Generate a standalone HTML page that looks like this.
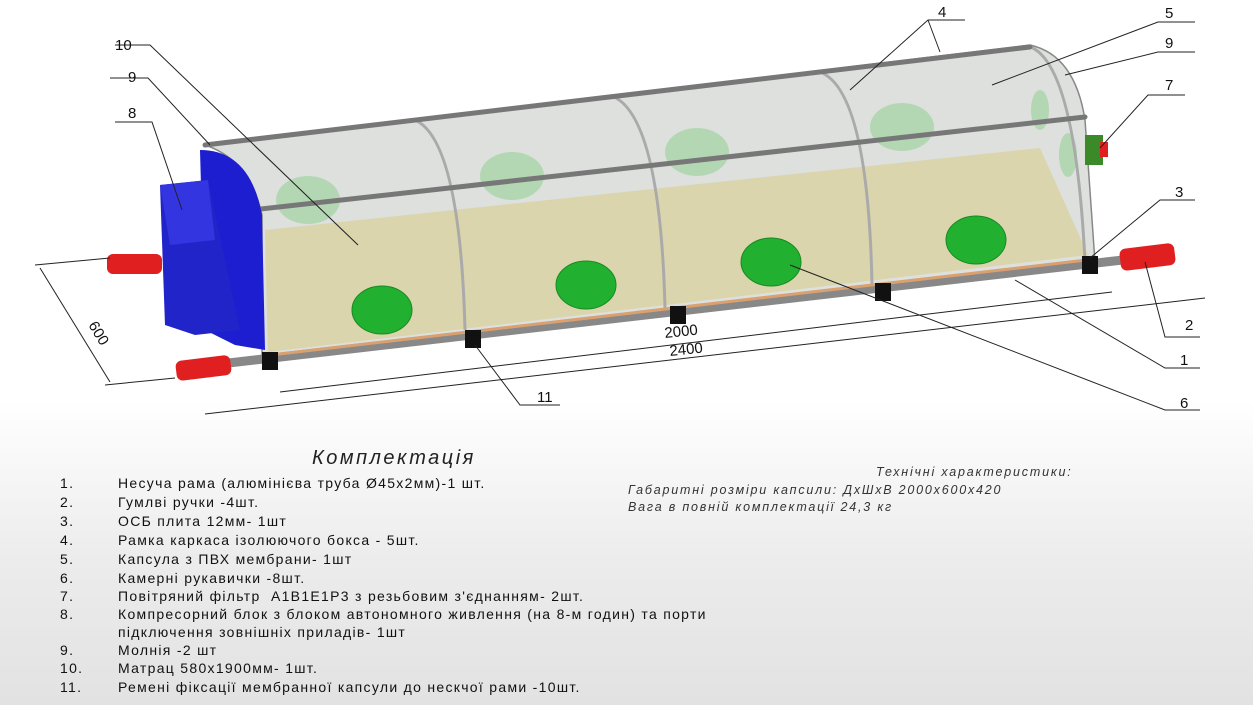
<!DOCTYPE html>
<html><head><meta charset="utf-8"><style>
html,body{margin:0;padding:0}
body{width:1253px;height:705px;overflow:hidden;background:linear-gradient(#fff 0,#fff 400px,#ececec 560px,#e2e2e2 705px);font-family:"Liberation Sans","DejaVu Sans",sans-serif;position:relative}
.l{position:absolute;font-size:14px;letter-spacing:1.3px;color:#111;white-space:nowrap}
.n{left:60px}.t{left:118px}
.it{position:absolute;font-style:italic;font-size:12.5px;color:#333;white-space:nowrap;letter-spacing:1.8px}
</style></head><body>
<svg width="1253" height="440" style="position:absolute;left:0;top:0" font-family="Liberation Sans, sans-serif">
<path d="M205,145 L1030,45 Q1075,55 1085,120 L1095,262 L262,360 L262,215 Q250,160 205,145 Z" fill="#dde0dd" stroke="#888" stroke-width="1.5"/>
<polygon points="265,230 1040,148 1088,255 268,352" fill="#d9d4a6" opacity="0.9"/>
<g fill="#a9d4a9" opacity="0.8">
<ellipse cx="308" cy="200" rx="32" ry="24"/><ellipse cx="512" cy="176" rx="32" ry="24"/><ellipse cx="697" cy="152" rx="32" ry="24"/><ellipse cx="902" cy="127" rx="32" ry="24"/>
<ellipse cx="1040" cy="110" rx="9" ry="20"/><ellipse cx="1068" cy="155" rx="9" ry="22"/>
</g>
<g fill="none" stroke="#aaa" stroke-width="3">
<path d="M415,120 Q460,140 465,330"/><path d="M612,96 Q660,115 665,308"/><path d="M820,72 Q868,90 872,285"/><path d="M1028,46 Q1075,60 1085,262"/>
</g>
<g fill="#22b030" stroke="#178a22">
<ellipse cx="382" cy="310" rx="30" ry="24"/><ellipse cx="586" cy="285" rx="30" ry="24"/><ellipse cx="771" cy="262" rx="30" ry="24"/><ellipse cx="976" cy="240" rx="30" ry="24"/>
</g>
<g stroke="#777" stroke-width="5" stroke-linecap="round">
<line x1="205" y1="145" x2="1030" y2="47"/>
<line x1="252" y1="210" x2="1085" y2="117"/>
</g>
<line x1="185" y1="368" x2="1140" y2="258" stroke="#888" stroke-width="9"/>
<line x1="262" y1="356" x2="1095" y2="259" stroke="#d9a070" stroke-width="3"/>
<g fill="#111"><rect x="262" y="352" width="16" height="18"/><rect x="465" y="330" width="16" height="18"/><rect x="670" y="306" width="16" height="18"/><rect x="875" y="283" width="16" height="18"/><rect x="1082" y="256" width="16" height="18"/></g>
<g fill="#e02020"><rect x="176" y="358" width="55" height="20" rx="6" transform="rotate(-7 203 368)"/><rect x="107" y="254" width="55" height="20" rx="6"/><rect x="1120" y="246" width="55" height="22" rx="6" transform="rotate(-7 1147 257)"/></g>
<rect x="1085" y="135" width="18" height="30" fill="#3a8a2a"/><rect x="1100" y="142" width="8" height="15" fill="#e02020"/>
<path d="M200,150 Q250,150 262,215 L265,350 L235,345 L205,330 Z" fill="#1c1ed0"/>
<polygon points="160,185 208,180 240,330 195,335 165,325" fill="#2124c8"/>
<polygon points="160,185 208,180 215,240 170,245" fill="#3336e0"/>
<g stroke="#222" stroke-width="1" fill="none">
<line x1="280" y1="392" x2="1112" y2="292"/><line x1="205" y1="414" x2="1205" y2="298"/>
<line x1="40" y1="268" x2="110" y2="382"/><line x1="35" y1="265" x2="110" y2="258"/><line x1="105" y1="385" x2="175" y2="378"/>
<polyline points="115,45 150,45 358,245"/><polyline points="110,78 148,78 210,145"/><polyline points="115,122 152,122 182,210"/>
<polyline points="965,20 928,20 850,90"/><line x1="928" y1="20" x2="940" y2="52"/>
<polyline points="1195,22 1158,22 992,85"/><polyline points="1195,52 1158,52 1065,75"/><polyline points="1185,95 1148,95 1100,148"/>
<polyline points="1195,200 1160,200 1090,258"/><polyline points="1200,337 1165,337 1145,262"/>
<polyline points="1200,368 1165,368 1015,280"/><polyline points="1200,410 1165,410 790,265"/>
<polyline points="560,405 520,405 475,345"/>
</g>
<g font-size="15" fill="#111">
<text x="115" y="50">10</text><text x="128" y="82">9</text><text x="128" y="118">8</text>
<text x="938" y="17">4</text><text x="1165" y="18">5</text><text x="1165" y="48">9</text><text x="1165" y="90">7</text>
<text x="1175" y="197">3</text><text x="1185" y="330">2</text><text x="1180" y="365">1</text><text x="1180" y="408">6</text><text x="537" y="402">11</text>
<text x="665" y="338" transform="rotate(-6 665 338)">2000</text><text x="670" y="356" transform="rotate(-6 670 356)">2400</text>
<text x="88" y="325" transform="rotate(59 88 325)">600</text>
</g>
</svg>
<div class="it" style="left:312px;top:447px;font-size:20px;letter-spacing:2.5px;color:#222">Комплектація</div>
<div class="it" style="left:876px;top:465px">Технічні характеристики:</div>
<div class="it" style="left:628px;top:483px">Габаритні розміри капсили: ДхШхВ 2000х600х420</div>
<div class="it" style="left:628px;top:500px">Вага в повній комплектації 24,3 кг</div>
<div class="l n" style="top:475px">1.</div><div class="l t" style="top:475px">Несуча рама (алюмінієва труба Ø45х2мм)-1 шт.</div>
<div class="l n" style="top:494px">2.</div><div class="l t" style="top:494px">Гумлві ручки -4шт.</div>
<div class="l n" style="top:513px">3.</div><div class="l t" style="top:513px">ОСБ плита 12мм- 1шт</div>
<div class="l n" style="top:532px">4.</div><div class="l t" style="top:532px">Рамка каркаса ізолюючого бокса - 5шт.</div>
<div class="l n" style="top:551px">5.</div><div class="l t" style="top:551px">Капсула з ПВХ мембрани- 1шт</div>
<div class="l n" style="top:570px">6.</div><div class="l t" style="top:570px">Камерні рукавички -8шт.</div>
<div class="l n" style="top:588px">7.</div><div class="l t" style="top:588px">Повітряний фільтр &nbsp;A1B1E1P3 з резьбовим з'єднанням- 2шт.</div>
<div class="l n" style="top:606px">8.</div><div class="l t" style="top:606px">Компресорний блок з блоком автономного живлення (на 8-м годин) та порти</div>
<div class="l t" style="top:624px">підключення зовнішніх приладів- 1шт</div>
<div class="l n" style="top:642px">9.</div><div class="l t" style="top:642px">Молнія -2 шт</div>
<div class="l n" style="top:660px">10.</div><div class="l t" style="top:660px">Матрац 580х1900мм- 1шт.</div>
<div class="l n" style="top:679px">11.</div><div class="l t" style="top:679px">Ремені фіксації мембранної капсули до нескчої рами -10шт.</div>
</body></html>
